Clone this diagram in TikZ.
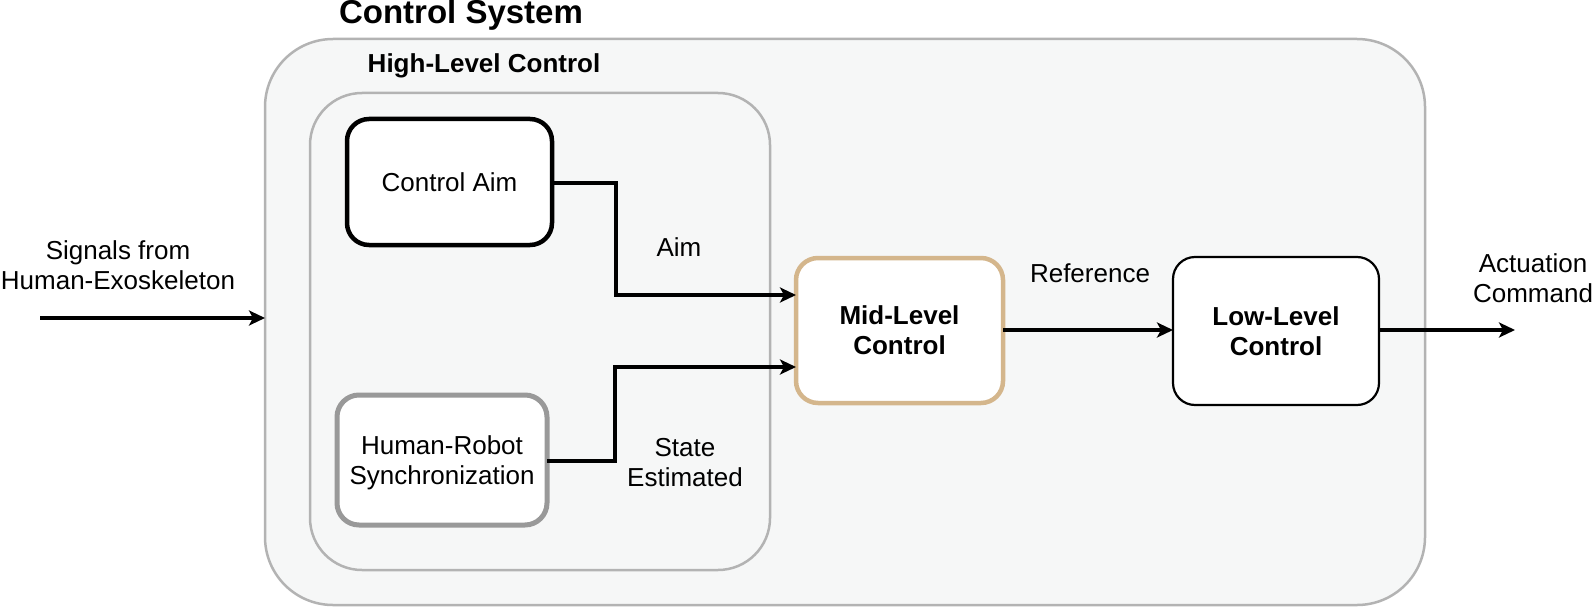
\documentclass[tikz,border=0pt]{standalone}
\usepackage{fontspec}
\setmainfont{Liberation Sans}
\usetikzlibrary{arrows.meta}
\definecolor{grpfill}{HTML}{F6F7F7}
\definecolor{grpline}{HTML}{B3B3B3}
\definecolor{syncline}{HTML}{999999}
\definecolor{tanline}{HTML}{D4B68C}
\tikzset{
  grp/.style={draw=grpline, fill=grpfill, line width=2.5pt},
  blk/.style={fill=white, rounded corners=22pt},
  lbl/.style={font=\fontsize{26}{32}\selectfont, align=center, inner sep=0pt},
  blbl/.style={font=\fontsize{26}{32}\selectfont\bfseries, align=center, inner sep=0pt},
  conn/.style={line width=3.4pt, -{Stealth[length=16pt,width=15pt,inset=4pt]}},
}
\begin{document}
\begin{tikzpicture}[x=1pt,y=-1pt]
\useasboundingbox (0,0) rectangle (1594,607);
% groups
\draw[grp, rounded corners=68pt] (265,39) rectangle (1425,605);
\draw[grp, rounded corners=52pt] (310,93) rectangle (770,570);
\node[font=\fontsize{33}{38}\selectfont\bfseries, inner sep=0pt] (title) at (461,15) {Control System};
\node[font=\fontsize{26}{32}\selectfont\bfseries, inner sep=0pt] (hltitle) at (484,66) {High-Level Control};
% blocks
\draw[blk, draw=black, line width=4.5pt] (347,119) rectangle (552,245);
\node[lbl] (aim) at (449.5,182) {Control Aim};
\draw[blk, draw=syncline, line width=5pt] (337,395) rectangle (547,525);
\node[lbl] (sync) at (442,463) {Human-Robot\\[-2pt]Synchronization};
\draw[blk, draw=tanline, line width=4.5pt] (796,258) rectangle (1003,403);
\node[blbl] (mid) at (899.5,330.5) {Mid-Level\\[-2pt]Control};
\draw[blk, draw=black, line width=2.2pt] (1173,257) rectangle (1379,405);
\node[blbl] (low) at (1276,331) {Low-Level\\[-2pt]Control};
% anchor coordinates
\coordinate (aimR) at (552,183);
\coordinate (syncR) at (547,461);
\coordinate (midL1) at (796,295);
\coordinate (midL2) at (796,367);
\coordinate (midR) at (1003,330);
\coordinate (lowL) at (1173,330);
\coordinate (lowR) at (1379,330);
\coordinate (sigS) at (40,318);
\coordinate (sigE) at (265,318);
\coordinate (actE) at (1515,330);
% connectors
\draw[conn] (aimR) -| (616,295) -- (midL1);
\draw[conn] (syncR) -| (615,367) -- (midL2);
\draw[conn] (midR) -- (lowL);
\draw[conn] (lowR) -- (actE);
\draw[conn] (sigS) -- (sigE);
% labels
\node[lbl] (laim) at (679,247) {Aim};
\node[lbl] (lstate) at (685,463) {State\\[-2pt]Estimated};
\node[lbl] (lref) at (1090,273) {Reference};
\node[lbl] (lsig) at (118,265) {Signals from\\[-2pt]Human-Exoskeleton};
\node[lbl] (lact) at (1533,278) {Actuation\\[-2pt]Command};
\end{tikzpicture}
\end{document}
